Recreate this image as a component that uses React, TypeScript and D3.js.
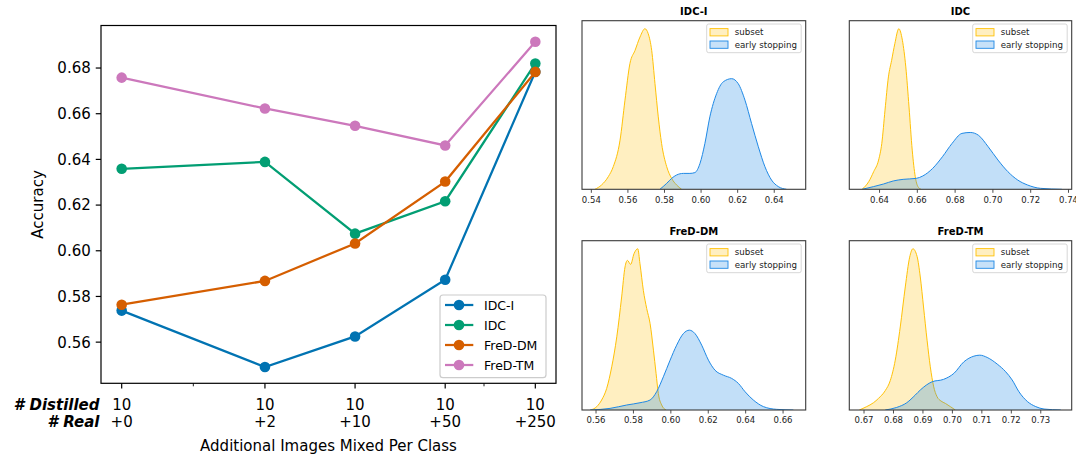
import React from "react";
import * as d3 from "d3";

// ---------- Left chart data ----------
const mixedCounts = [0, 2, 10, 50, 250];
const distilledLabels = ["10", "10", "10", "10", "10"];
const realLabels = ["+0", "+2", "+10", "+50", "+250"];
const minorTickValues = [1, 100];
const accuracyTicks = [0.56, 0.58, 0.6, 0.62, 0.64, 0.66, 0.68];

const seriesNames = ["IDC-I", "IDC", "FreD-DM", "FreD-TM"];
const seriesColors = ["#0173b2", "#029e73", "#d55e00", "#cc78bc"];
const idcIValues = [0.5738, 0.5491, 0.5625, 0.5873, 0.6784];
const idcValues = [0.6359, 0.6389, 0.6075, 0.6217, 0.682];
const fredDmValues = [0.5764, 0.5868, 0.6032, 0.6303, 0.6783];
const fredTmValues = [0.6758, 0.6623, 0.6547, 0.6461, 0.6915];
const seriesValues = [idcIValues, idcValues, fredDmValues, fredTmValues];

// ---------- Density panels data (x, relative density) ----------
const idcISubset: [number, number][] = [
  [0.542, 0], [0.5456, 0.027], [0.5493, 0.079], [0.552, 0.141], [0.5557, 0.306], [0.5584, 0.555],
  [0.5611, 0.783], [0.5639, 0.865], [0.5666, 0.948], [0.5693, 1.0], [0.5711, 0.969], [0.573, 0.865],
  [0.5748, 0.658], [0.5766, 0.451], [0.5784, 0.286], [0.5812, 0.141], [0.5839, 0.068], [0.5866, 0.027], [0.5894, 0],
];
const idcIEarly: [number, number][] = [
  [0.5775, 0], [0.5812, 0.037], [0.5839, 0.068], [0.5866, 0.089], [0.5903, 0.099], [0.5939, 0.099],
  [0.5966, 0.104], [0.5994, 0.161], [0.6021, 0.286], [0.6048, 0.451], [0.6085, 0.596], [0.6121, 0.669],
  [0.6167, 0.689], [0.6203, 0.658], [0.624, 0.555], [0.6276, 0.41], [0.6313, 0.265], [0.6349, 0.141],
  [0.6385, 0.058], [0.6422, 0.017], [0.6467, 0],
];
const idcSubset: [number, number][] = [
  [0.6308, 0], [0.6343, 0.048], [0.6369, 0.11], [0.6395, 0.182], [0.6412, 0.286], [0.6429, 0.493],
  [0.6447, 0.7], [0.6464, 0.803], [0.6481, 0.907], [0.6502, 1.0], [0.6521, 0.928], [0.6539, 0.762],
  [0.6556, 0.513], [0.6573, 0.244], [0.6589, 0.079], [0.6603, 0.017], [0.662, 0],
];
const idcEarly: [number, number][] = [
  [0.6308, 0], [0.6369, 0.017], [0.6421, 0.033], [0.6473, 0.052], [0.6525, 0.062], [0.6594, 0.068],
  [0.6629, 0.083], [0.6681, 0.13], [0.6733, 0.203], [0.6784, 0.286], [0.6836, 0.348], [0.688, 0.354],
  [0.6923, 0.337], [0.6975, 0.265], [0.7027, 0.182], [0.7079, 0.11], [0.7131, 0.058], [0.7183, 0.027],
  [0.7252, 0.006], [0.7365, 0],
];
const fredDmSubset: [number, number][] = [
  [0.5571, 0], [0.5604, 0.021], [0.563, 0.062], [0.5657, 0.134], [0.5684, 0.268], [0.5711, 0.454],
  [0.5737, 0.701], [0.5755, 0.887], [0.5768, 0.928], [0.5785, 0.903], [0.5803, 0.969], [0.5823, 1.0],
  [0.5835, 0.907], [0.5853, 0.742], [0.5871, 0.629], [0.5889, 0.536], [0.5907, 0.371], [0.5921, 0.227],
  [0.5933, 0.103], [0.5951, 0.031], [0.5974, 0],
];
const fredDmEarly: [number, number][] = [
  [0.5568, 0], [0.5675, 0.01], [0.5764, 0.031], [0.5835, 0.045], [0.5889, 0.062], [0.5924, 0.113],
  [0.596, 0.206], [0.5996, 0.309], [0.6031, 0.402], [0.6067, 0.474], [0.6099, 0.495], [0.6129, 0.474],
  [0.6165, 0.402], [0.6201, 0.309], [0.6236, 0.247], [0.6281, 0.216], [0.6325, 0.196], [0.6361, 0.165],
  [0.6397, 0.113], [0.6441, 0.062], [0.6495, 0.021], [0.6566, 0.004], [0.6655, 0],
];
const fredTmSubset: [number, number][] = [
  [0.6684, 0], [0.6709, 0.021], [0.6732, 0.045], [0.6749, 0.072], [0.6772, 0.12], [0.6789, 0.182],
  [0.6806, 0.309], [0.6823, 0.515], [0.684, 0.763], [0.6855, 0.948], [0.6866, 1.0], [0.688, 0.953],
  [0.6891, 0.825], [0.6902, 0.639], [0.6914, 0.433], [0.6925, 0.268], [0.6936, 0.148], [0.6948, 0.082],
  [0.6961, 0.056], [0.6976, 0.041], [0.6993, 0.021], [0.701, 0],
];
const fredTmEarly: [number, number][] = [
  [0.6772, 0], [0.6811, 0.016], [0.6845, 0.045], [0.6874, 0.093], [0.6891, 0.124], [0.6931, 0.175],
  [0.697, 0.19], [0.7005, 0.227], [0.7039, 0.299], [0.7073, 0.334], [0.7093, 0.34], [0.7118, 0.326],
  [0.7152, 0.285], [0.7181, 0.237], [0.7203, 0.186], [0.7226, 0.113], [0.7255, 0.052], [0.7283, 0.021],
  [0.7311, 0.006], [0.7368, 0],
];

const panelTitles = ["IDC-I", "IDC", "FreD-DM", "FreD-TM"];
const panelDomains: [number, number][] = [
  [0.5349, 0.6572],
  [0.624, 0.7417],
  [0.5525, 0.6721],
  [0.665, 0.7405],
];
const panelTicks = [
  [0.54, 0.56, 0.58, 0.6, 0.62, 0.64],
  [0.64, 0.66, 0.68, 0.7, 0.72, 0.74],
  [0.56, 0.58, 0.6, 0.62, 0.64, 0.66],
  [0.67, 0.68, 0.69, 0.7, 0.71, 0.72, 0.73],
];
const panelSubsets = [idcISubset, idcSubset, fredDmSubset, fredTmSubset];
const panelEarly = [idcIEarly, idcEarly, fredDmEarly, fredTmEarly];
const legendLabels = ["subset", "early stopping"];

const FONT = "'DejaVu Sans', sans-serif";
const subsetColor = "#FFC107";
const earlyColor = "#1E88E5";

// symlog transform (linthresh 2, base 10, linscale 1)
const symT = (v: number) => {
  const lin = 2;
  const adj = 1 / (1 - 1 / 10);
  return Math.abs(v) <= lin ? (v / lin) * adj : Math.sign(v) * (adj + Math.log10(Math.abs(v) / lin));
};

function LeftChart() {
  const left = 101, right = 556, top = 25.5, bottom = 383.3;
  const t0 = symT(mixedCounts[0]);
  const t1 = symT(mixedCounts[mixedCounts.length - 1]);
  const span = t1 - t0;
  const xs = d3.scaleLinear().domain([t0 - 0.05 * span, t1 + 0.05 * span]).range([left, right]);
  const x = (v: number) => xs(symT(v));
  const all = seriesValues.flat();
  const ymin = d3.min(all)!, ymax = d3.max(all)!;
  const ys = d3.scaleLinear().domain([ymin - 0.05 * (ymax - ymin), ymax + 0.05 * (ymax - ymin)]).range([bottom, top]);
  const line = d3.line<number>().x((_, i) => x(mixedCounts[i])).y((d) => ys(d));
  const tickLen = 5.25;
  const legX = 440, legY = 295, legW = 106, legH = 82.7;
  const mr = 5.3;

  return (
    <g fontFamily={FONT}>
      {accuracyTicks.map((t) => (
        <g key={t}>
          <line x1={left - tickLen} x2={left} y1={ys(t)} y2={ys(t)} stroke="#000" strokeWidth={1.2} />
          <text x={left - tickLen - 5} y={ys(t)} dy="0.36em" textAnchor="end" fontSize={15} fill="#000">
            {t.toFixed(2)}
          </text>
        </g>
      ))}
      {mixedCounts.map((m, i) => (
        <g key={m}>
          <line x1={x(m)} x2={x(m)} y1={bottom} y2={bottom + tickLen} stroke="#000" strokeWidth={1.2} />
          <text x={x(m)} y={409.5} textAnchor="middle" fontSize={15}>{distilledLabels[i]}</text>
          <text x={x(m)} y={427} textAnchor="middle" fontSize={15}>{realLabels[i]}</text>
        </g>
      ))}
      {minorTickValues.map((m) => (
        <line key={m} x1={x(m)} x2={x(m)} y1={bottom} y2={bottom + 3} stroke="#000" strokeWidth={0.9} />
      ))}
      <text x={99.5} y={409.5} textAnchor="end" fontSize={15} fontWeight="bold" fontStyle="italic"># Distilled</text>
      <text x={99.5} y={427} textAnchor="end" fontSize={15} fontWeight="bold" fontStyle="italic"># Real</text>
      <text x={(left + right) / 2} y={451} textAnchor="middle" fontSize={15}>Additional Images Mixed Per Class</text>
      <text transform={`translate(42.5,${(top + bottom) / 2}) rotate(-90)`} textAnchor="middle" fontSize={15}>Accuracy</text>

      {seriesValues.map((vals, si) => (
        <g key={si}>
          <path d={line(vals)!} fill="none" stroke={seriesColors[si]} strokeWidth={2.25} />
          {vals.map((v, i) => (
            <circle key={i} cx={x(mixedCounts[i])} cy={ys(v)} r={mr} fill={seriesColors[si]} />
          ))}
        </g>
      ))}

      <rect x={left} y={top} width={right - left} height={bottom - top} fill="none" stroke="#000" strokeWidth={1.2} />

      <rect x={legX} y={legY} width={legW} height={legH} rx={3} fill="#fff" fillOpacity={0.8} stroke="#cccccc" strokeWidth={1.2} />
      {seriesNames.map((n, i) => {
        const cy = 305 + i * 20;
        return (
          <g key={n}>
            <line x1={445} x2={473.3} y1={cy} y2={cy} stroke={seriesColors[i]} strokeWidth={2.25} />
            <circle cx={459} cy={cy} r={mr} fill={seriesColors[i]} />
            <text x={484} y={cy} dy="0.36em" fontSize={12.5}>{n}</text>
          </g>
        );
      })}
    </g>
  );
}

function DensityPanel({ idx, x0, x1, y0, y1 }: { idx: number; x0: number; x1: number; y0: number; y1: number }) {
  const xs = d3.scaleLinear().domain(panelDomains[idx]).range([x0, x1]);
  const allY = [...panelSubsets[idx], ...panelEarly[idx]].map((d) => d[1]);
  const ys = d3.scaleLinear().domain([0, d3.max(allY)! * 1.05]).range([y1, y0]);
  const area = d3.area<[number, number]>().x((d) => xs(d[0])).y0(ys(0)).y1((d) => ys(d[1])).curve(d3.curveMonotoneX);
  const line = d3.line<[number, number]>().x((d) => xs(d[0])).y((d) => ys(d[1])).curve(d3.curveMonotoneX);
  const clipId = `clip${idx}`;
  const legW = 94.5, legH = 28.7;
  const lx = x1 - legW - 4.5, ly = y0 + 3.3;
  const colors = [subsetColor, earlyColor];
  return (
    <g fontFamily={FONT}>
      <defs>
        <clipPath id={clipId}>
          <rect x={x0} y={y0} width={x1 - x0} height={y1 - y0} />
        </clipPath>
      </defs>
      <g clipPath={`url(#${clipId})`}>
        <path d={area(panelSubsets[idx])!} fill={subsetColor} fillOpacity={0.25} />
        <path d={line(panelSubsets[idx])!} fill="none" stroke={subsetColor} strokeWidth={1} />
        <path d={area(panelEarly[idx])!} fill={earlyColor} fillOpacity={0.27} />
        <path d={line(panelEarly[idx])!} fill="none" stroke={earlyColor} strokeWidth={1} />
      </g>
      <rect x={x0} y={y0} width={x1 - x0} height={y1 - y0} fill="none" stroke="#3a3a3a" strokeWidth={1.1} />
      {panelTicks[idx].map((t) => (
        <g key={t}>
          <line x1={xs(t)} x2={xs(t)} y1={y1} y2={y1 + 3.5} stroke="#3a3a3a" strokeWidth={0.9} />
          <text x={xs(t)} y={y1 + 13.2} textAnchor="middle" fontSize={8.5} fill="#222">{t.toFixed(2)}</text>
        </g>
      ))}
      <text x={(x0 + x1) / 2} y={y0 - 5.4} textAnchor="middle" fontSize={10} fontWeight="bold">{panelTitles[idx]}</text>
      <rect x={lx} y={ly} width={legW} height={legH} rx={2} fill="#fff" fillOpacity={0.8} stroke="#cccccc" strokeWidth={0.8} />
      {legendLabels.map((l, i) => {
        const cy = ly + 8.3 + i * 12.4;
        return (
          <g key={l}>
            <rect x={lx + 3.3} y={cy - 3.7} width={18} height={7.3} fill="#fff" />
            <rect x={lx + 3.3} y={cy - 3.7} width={18} height={7.3} fill={colors[i]} fillOpacity={0.25} stroke={colors[i]} strokeWidth={0.9} />
            <text x={lx + 28} y={cy} dy="0.36em" fontSize={8.7} fill="#222">{l}</text>
          </g>
        );
      })}
    </g>
  );
}

export default function App() {
  const cols: [number, number][] = [[582, 805.7], [849.3, 1071.7]];
  const rows: [number, number][] = [[20.7, 189.3], [240.7, 410]];
  return (
    <svg width={1076} height={455} style={{ position: "absolute", left: 0, top: 0, background: "#fff" }}>
      <rect x={0} y={0} width={1076} height={455} fill="#fff" />
      <LeftChart />
      {panelTitles.map((_, i) => (
        <DensityPanel key={i} idx={i} x0={cols[i % 2][0]} x1={cols[i % 2][1]} y0={rows[Math.floor(i / 2)][0]} y1={rows[Math.floor(i / 2)][1]} />
      ))}
    </svg>
  );
}
